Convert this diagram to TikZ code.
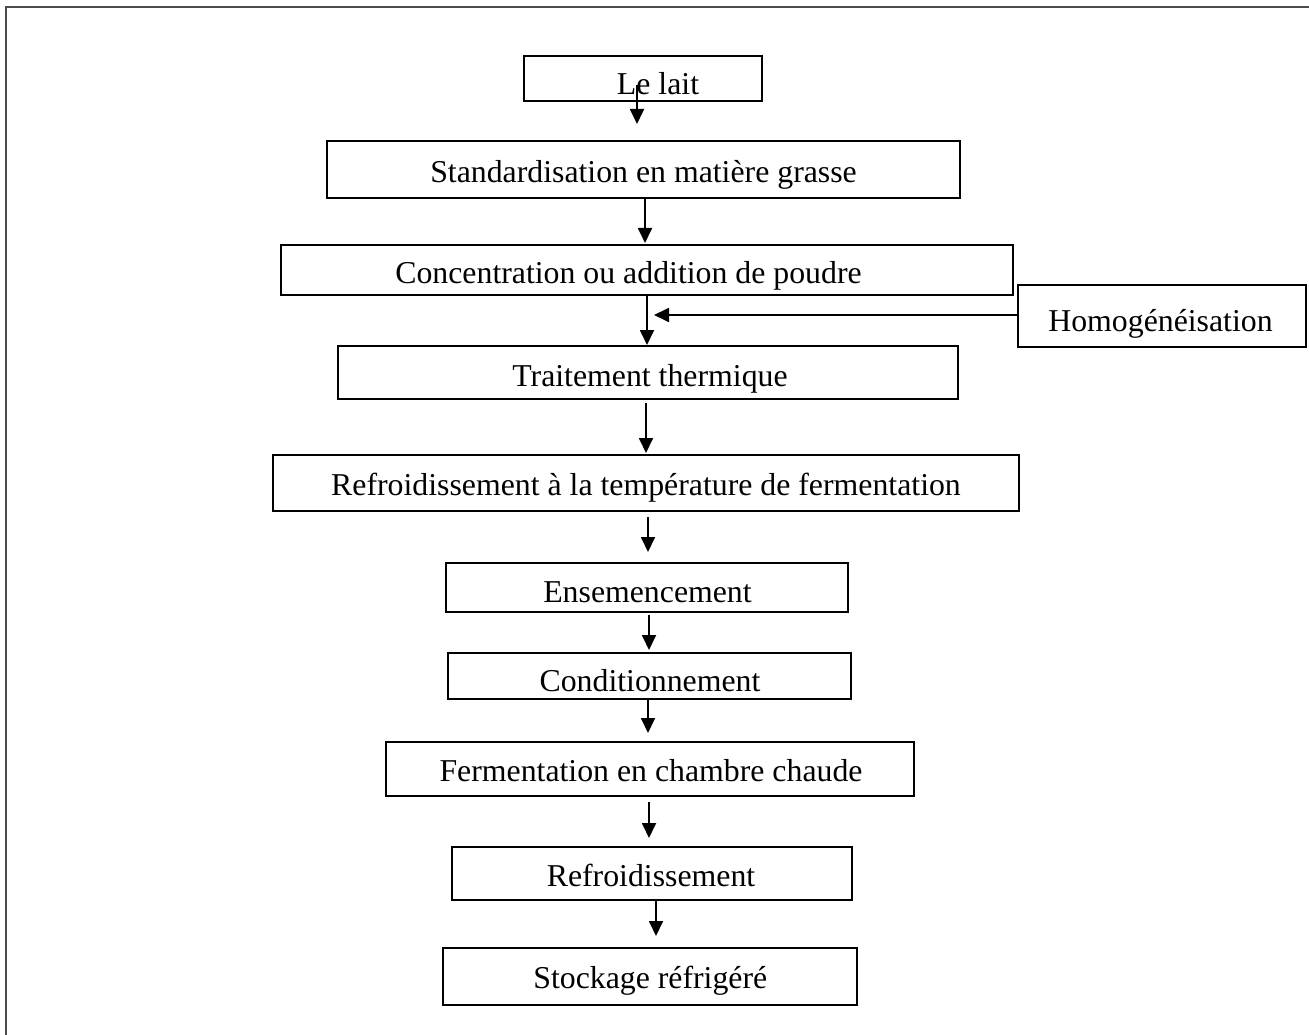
\documentclass[tikz,border=0pt]{standalone}
\usepackage{fontspec}
\setmainfont{Liberation Serif}
\usetikzlibrary{arrows.meta,calc}

\tikzset{
  box/.style={draw, line width=1.6pt, inner sep=0pt, outer sep=0pt, rectangle},
  lbl/.style={anchor=base, inner sep=0pt, font=\fontsize{31.8}{38}\selectfont},
  arr/.style={line width=1.8pt, -{Triangle[length=15pt,width=14pt]}},
  frame/.style={line width=2pt, draw=black!70}
}

\begin{document}
\begin{tikzpicture}[x=1pt,y=-1pt]
  \useasboundingbox (0,0) rectangle (1309,1035);

  % page frame (only the left and top edges fall inside the page)
  \draw[frame] (6,1035) -- (6,7) -- (1309,7);

  % process boxes
  \node[box, minimum width=238pt, minimum height=45pt] (lait)  at (643,78.5)   {};
  \node[box, minimum width=633pt, minimum height=57pt] (std)   at (643.5,169.5) {};
  \node[box, minimum width=732pt, minimum height=50pt] (conc)  at (647,270)    {};
  \node[box, minimum width=288pt, minimum height=62pt] (homog) at (1162,316)   {};
  \node[box, minimum width=620pt, minimum height=53pt] (trait) at (648,372.5)  {};
  \node[box, minimum width=746pt, minimum height=56pt] (refr)  at (646,483)    {};
  \node[box, minimum width=402pt, minimum height=49pt] (ens)   at (647,587.5)  {};
  \node[box, minimum width=403pt, minimum height=46pt] (cond)  at (649.5,676)  {};
  \node[box, minimum width=528pt, minimum height=54pt] (ferm)  at (650,769)    {};
  \node[box, minimum width=400pt, minimum height=53pt] (refrb) at (652,873.5)  {};
  \node[box, minimum width=414pt, minimum height=57pt] (stock) at (650,976.5)  {};

  % labels
  \node[lbl] (lait-t)  at (658,95)      {Le lait};
  \node[lbl] (std-t)   at (643.5,182.5) {Standardisation en matière grasse};
  \node[lbl] (conc-t)  at (628.5,283.3) {Concentration ou addition de poudre};
  \node[lbl] (homog-t) at (1160.5,331)  {Homogénéisation};
  \node[lbl] (trait-t) at (650,386)     {Traitement thermique};
  \node[lbl] (refr-t)  at (646,495)     {Refroidissement à la température de fermentation};
  \node[lbl] (ens-t)   at (647.5,602.7) {Ensemencement};
  \node[lbl] (cond-t)  at (650,691.7)   {Conditionnement};
  \node[lbl] (ferm-t)  at (651,781.7)   {Fermentation en chambre chaude};
  \node[lbl] (refrb-t) at (651,886.7)   {Refroidissement};
  \node[lbl] (stock-t) at (650.3,988.3) {Stockage réfrigéré};

  % flow arrows
  \draw[arr] ($(lait.center)+(-6,6.5)$) -- ($(std.north)+(-6.5,-17)$);
  \draw[arr] ($(std.south)+(1.5,0)$)    -- ($(conc.north)+(-2,-2)$);
  \draw[arr] (conc.south)               -- ($(trait.north)+(-1,-1)$);
  \coordinate (join) at ($(conc.south)+(7,20)$);
  \draw[arr] ($(homog.west)+(0,-1)$)    -- (join);
  \draw[arr] ($(trait.south)+(-2,4)$)   -- ($(refr.north)+(0,-2)$);
  \draw[arr] ($(refr.south)+(2,6)$)     -- ($(ens.north)+(1,-11)$);
  \draw[arr] ($(ens.south)+(2,3)$)      -- ($(cond.north)+(-0.5,-3)$);
  \draw[arr] ($(cond.south)+(-1.5,0)$)  -- ($(ferm.north)+(-2,-9)$);
  \draw[arr] ($(ferm.south)+(-1,6)$)    -- ($(refrb.north)+(-3,-9)$);
  \draw[arr] ($(refrb.south)+(4,0)$)    -- ($(stock.north)+(6,-12)$);
\end{tikzpicture}
\end{document}
